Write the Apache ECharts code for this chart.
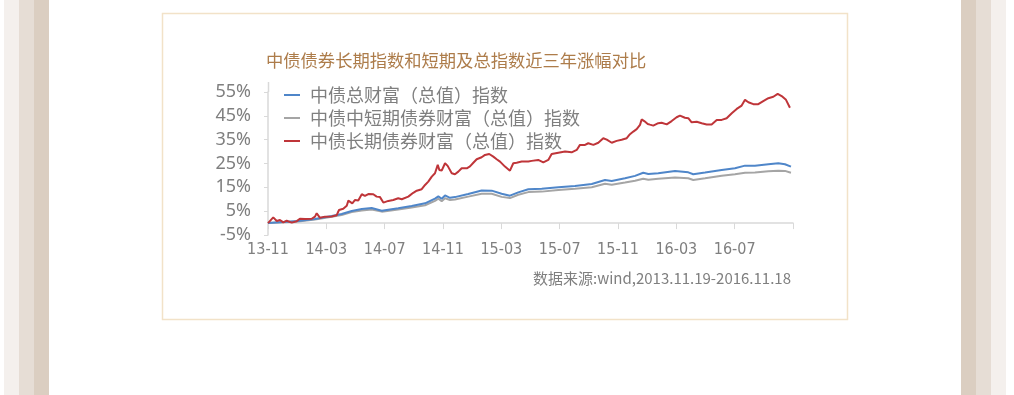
<!DOCTYPE html>
<html>
<head>
<meta charset="utf-8">
<script src="https://cdn.jsdelivr.net/npm/echarts@6/dist/echarts.min.js"></script>
<style>
html,body{margin:0;padding:0;background:#fff;}
#chart{width:1014px;height:395px;}
</style>
</head>
<body>
<div id="chart"></div>
<script>
// x values: months since 2013-11-19
const xTickLabels = ['13-11','14-03','14-07','14-11','15-03','15-07','15-11','16-03','16-07',''];
const seriesNames = ['中债总财富（总值）指数','中债中短期债券财富（总值）指数','中债长期债券财富（总值）指数'];

const totalMonths = [0,2.08,3.22,4.37,5.05,5.74,6.43,7.11,7.80,8.93,9.85,10.77,11.45,11.68,11.91,12.14,12.48,12.82,13.73,14.65,15.34,16.02,16.59,17.16,17.85,18.77,19.91,21.05,22.20,23.11,23.57,24.48,25.17,25.73,26.08,26.76,27.91,28.82,29.16,29.97,31.11,32.02,32.71,33.39,34.31,34.99,35.45,35.86];
const totalValues = [0,0.9,1.7,3.0,3.8,5.1,5.9,6.3,5.2,6.2,7.2,8.3,10.3,11.2,10.2,11.6,10.6,10.9,12.2,13.7,13.6,12.3,11.5,12.9,14.2,14.4,15.0,15.6,16.4,18.1,17.7,18.8,19.8,21.1,20.6,20.9,21.9,21.3,20.5,21.2,22.3,23.0,24.1,24.1,24.7,25.1,24.7,23.7];

const shortValues = [0,0.7,1.5,2.7,3.4,4.6,5.3,5.7,4.8,5.7,6.5,7.5,9.3,10.2,9.2,10.4,9.7,9.9,11.1,12.3,12.3,11.0,10.5,11.9,13.0,13.2,13.9,14.4,15.0,16.5,16.1,17.0,17.8,18.6,18.2,18.6,19.1,18.8,18.1,18.8,19.9,20.5,21.1,21.2,21.7,22.0,21.9,21.1];

const longMonths = [0,0.36,0.60,0.82,1.05,1.28,1.63,1.97,2.19,2.54,3.00,3.22,3.34,3.57,3.91,4.37,4.71,4.87,5.16,5.40,5.51,5.78,5.97,6.19,6.43,6.65,6.88,7.22,7.45,7.68,7.91,8.25,8.59,8.93,9.17,9.62,9.96,10.20,10.54,10.77,10.99,11.23,11.45,11.64,11.75,11.91,12.14,12.32,12.43,12.60,12.82,13.05,13.28,13.63,13.85,14.08,14.31,14.65,14.88,15.17,15.45,15.68,15.91,16.25,16.59,16.82,17.05,17.40,17.85,18.08,18.53,18.88,19.22,19.45,19.91,20.37,20.82,21.17,21.39,21.74,21.96,22.31,22.65,22.99,23.23,23.57,23.91,24.25,24.60,24.82,25.05,25.28,25.51,25.62,25.80,26.04,26.19,26.42,26.76,26.99,27.34,27.68,28.02,28.25,28.59,28.82,29.05,29.40,29.74,30.08,30.42,30.77,31.11,31.45,31.80,32.14,32.48,32.71,32.94,33.28,33.62,33.96,34.31,34.65,34.95,35.22,35.52,35.79];
const longValues = [0,2.4,0.9,1.3,0.3,1.0,0.2,0.8,1.8,1.7,1.8,2.7,4.1,2.2,2.7,2.8,3.3,5.5,6.0,7.3,9.4,8.3,9.7,9.5,12.1,11.4,12.2,12.1,11.1,10.9,8.6,9.3,9.7,10.4,10.0,11.1,12.7,13.6,14.2,16.0,17.4,19.5,20.9,24.4,22.3,22.0,25.1,24.0,24.7,20.9,20.5,21.6,23.0,23.0,23.8,25.3,26.8,27.6,28.6,29.0,27.9,26.8,25.8,23.7,22.0,25.1,25.3,25.8,25.8,26.1,26.5,25.5,26.5,29.0,29.5,30.0,29.7,30.7,32.8,32.8,33.5,32.8,33.7,35.6,35.0,33.7,34.5,35.0,35.6,37.3,38.4,39.4,41.2,43.5,42.8,41.6,41.3,40.9,41.9,42.1,41.4,42.8,44.4,45.1,44.2,44.0,42.3,42.5,41.9,41.4,41.4,43.3,43.3,44.0,46.1,47.9,49.3,51.7,50.7,49.9,49.9,51.2,52.4,53.0,54.2,53.3,51.7,48.4];

const zip = (xs, ys) => xs.map((x, i) => [x, ys[i]]);

const chart = echarts.init(document.getElementById('chart'), null, {renderer: 'canvas'});
const gray = '#7f7f7f';
chart.setOption({
  animation: false,
  backgroundColor: '#ffffff',
  graphic: [
    {type: 'rect', shape: {x: 4, y: 0, width: 15, height: 395}, style: {fill: '#f4f0ed'}, z: -10},
    {type: 'rect', shape: {x: 19, y: 0, width: 15, height: 395}, style: {fill: '#e6ddd5'}, z: -10},
    {type: 'rect', shape: {x: 34, y: 0, width: 15, height: 395}, style: {fill: '#dbcec1'}, z: -10},
    {type: 'rect', shape: {x: 961, y: 0, width: 15, height: 395}, style: {fill: '#dbcec1'}, z: -10},
    {type: 'rect', shape: {x: 976, y: 0, width: 15, height: 395}, style: {fill: '#e6ddd5'}, z: -10},
    {type: 'rect', shape: {x: 991, y: 0, width: 15, height: 395}, style: {fill: '#f4f0ed'}, z: -10},
    {type: 'rect', shape: {x: 162.5, y: 13.5, width: 685, height: 306}, style: {fill: 'none', stroke: '#f2e2c8', lineWidth: 1.5}, z: -5},
    {type: 'line', shape: {x1: 268.5, y1: 82, x2: 268.5, y2: 92}, style: {stroke: '#d9d9d9', lineWidth: 1.5}, z: -5}
  ],
  title: [
    {text: '中债债券长期指数和短期及总指数近三年涨幅对比', left: 261, top: 47,
     textStyle: {fontFamily: 'Noto Sans CJK SC', fontSize: 17.3, fontWeight: 'normal', color: '#ad7c4a'}},
    {text: '数据来源:wind,2013.11.19-2016.11.18', right: 218, top: 266,
     textStyle: {fontFamily: 'Noto Sans CJK SC', fontSize: 15, fontWeight: 'normal', color: gray}}
  ],
  legend: {
    orient: 'vertical', left: 279, top: 81, itemWidth: 16, itemHeight: 2, itemGap: 5,
    icon: 'rect',
    textStyle: {fontFamily: 'Noto Sans CJK SC', fontSize: 18, color: gray, padding: [0, 0, 0, 5]},
    data: seriesNames
  },
  grid: {left: 268, right: 221, top: 92, bottom: 160, containLabel: false},
  xAxis: {
    type: 'value', min: 0, max: 36, interval: 4,
    axisLine: {lineStyle: {color: '#d9d9d9', width: 1.5}},
    axisTick: {show: true, length: 6, lineStyle: {color: '#d9d9d9'}},
    splitLine: {show: false},
    axisLabel: {color: gray, fontSize: 16, fontFamily: 'DejaVu Sans Condensed, Noto Sans', margin: 7,
      showMaxLabel: true,
      formatter: v => xTickLabels[Math.round(v / 4)] || ''}
  },
  yAxis: {
    type: 'value', min: -5, max: 55, interval: 10,
    axisLine: {show: true, lineStyle: {color: '#d9d9d9', width: 1.5}},
    axisTick: {show: true, length: 4, lineStyle: {color: '#d9d9d9'}},
    splitLine: {show: false},
    axisLabel: {color: gray, fontSize: 18, fontFamily: 'Noto Sans', margin: 17, formatter: '{value}%'}
  },
  series: [
    {name: seriesNames[0], type: 'line', data: zip(totalMonths, totalValues), symbol: 'none',
     lineStyle: {color: '#4f86c9', width: 2}, itemStyle: {color: '#4f86c9'}, z: 3},
    {name: seriesNames[1], type: 'line', data: zip(totalMonths, shortValues), symbol: 'none',
     lineStyle: {color: '#a5a5a5', width: 2}, itemStyle: {color: '#a5a5a5'}, z: 2},
    {name: seriesNames[2], type: 'line', data: zip(longMonths, longValues), symbol: 'none',
     lineStyle: {color: '#bf3539', width: 2}, itemStyle: {color: '#bf3539'}, z: 4}
  ]
});
</script>
</body>
</html>
